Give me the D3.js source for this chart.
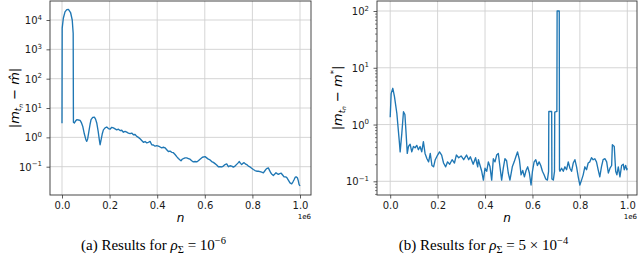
<!DOCTYPE html>
<html>
<head>
<meta charset="utf-8">
<script src="https://cdn.jsdelivr.net/npm/d3@7"></script>
<style>
  body { margin: 0; background: #fff; }
  svg { display: block; }
  .tick text { font-family: "DejaVu Sans", sans-serif; font-size: 10px; fill: #1a1a1a; }
  .tick line { stroke: #333; stroke-width: 0.8; }
  .grid line { stroke: #d0d0d0; stroke-width: 0.9; }
  .frame { fill: none; stroke: #333; stroke-width: 0.9; }
  .series { fill: none; stroke: #1f77b4; stroke-width: 1.35; stroke-linejoin: round; }
  .lab { font-family: "DejaVu Sans", sans-serif; fill: #000; }
  .caption { font-family: "Liberation Serif", serif; font-size: 15px; fill: #000; }
</style>
</head>
<body>
<script>
// n in units of 1e6, error values
var nA = [0, 0.0008, 0.0056, 0.0126, 0.020, 0.027, 0.036, 0.043, 0.047, 0.048,
  0.052, 0.057, 0.062, 0.069, 0.076, 0.082, 0.087, 0.094, 0.100, 0.104,
  0.108, 0.113, 0.118, 0.122, 0.129, 0.136, 0.141, 0.146, 0.152, 0.157,
  0.160, 0.164, 0.169, 0.174, 0.181, 0.188, 0.195, 0.202, 0.209, 0.216,
  0.223, 0.230, 0.237, 0.244, 0.251, 0.258, 0.265, 0.272, 0.279, 0.286,
  0.293, 0.300, 0.307, 0.314, 0.321, 0.328, 0.335, 0.342, 0.349, 0.356,
  0.363, 0.370, 0.377, 0.384, 0.391, 0.398, 0.405, 0.412, 0.419, 0.426,
  0.433, 0.440, 0.447, 0.454, 0.461, 0.468, 0.475, 0.482, 0.489, 0.496,
  0.500, 0.505, 0.510, 0.517, 0.524, 0.531, 0.538, 0.545, 0.552, 0.559,
  0.566, 0.573, 0.580, 0.590, 0.601, 0.608, 0.615, 0.622, 0.629, 0.636,
  0.643, 0.650, 0.657, 0.664, 0.671, 0.678, 0.685, 0.692, 0.699, 0.706,
  0.713, 0.720, 0.727, 0.734, 0.740, 0.745, 0.750, 0.755, 0.760, 0.765,
  0.770, 0.776, 0.783, 0.790, 0.797, 0.804, 0.811, 0.818, 0.825, 0.832,
  0.839, 0.846, 0.851, 0.856, 0.862, 0.867, 0.872, 0.877, 0.883, 0.888,
  0.894, 0.899, 0.904, 0.909, 0.915, 0.921, 0.927, 0.933, 0.939, 0.944,
  0.951, 0.958, 0.965, 0.970, 0.975, 0.980, 0.984, 0.989, 0.993, 0.996, 1.0];
var errA = [3.0, 5300, 11500, 19000, 22500, 23000, 18000, 10000, 3500, 3.3,
  3.1, 3.6, 4.0, 3.9, 3.8, 3.1, 2.4, 1.3, 0.85, 0.73,
  0.9, 1.6, 2.8, 4.0, 4.8, 4.9, 4.2, 3.1, 1.6, 0.8,
  0.56, 0.8, 1.3, 1.8, 2.1, 2.25, 2.0, 1.9, 2.2, 2.1,
  1.95, 1.8, 1.9, 1.7, 1.75, 1.5, 1.6, 1.5, 1.4, 1.34,
  1.4, 1.23, 1.25, 1.08, 1.0, 0.9, 0.78, 0.68, 0.72, 0.65,
  0.68, 0.73, 0.56, 0.55, 0.5, 0.52, 0.5, 0.47, 0.44, 0.46,
  0.44, 0.38, 0.33, 0.34, 0.31, 0.30, 0.26, 0.22, 0.19, 0.17,
  0.16, 0.18, 0.19, 0.20, 0.20, 0.19, 0.18, 0.16, 0.146, 0.15,
  0.146, 0.16, 0.18, 0.21, 0.22, 0.2, 0.18, 0.17, 0.15, 0.14,
  0.127, 0.115, 0.10, 0.10, 0.098, 0.105, 0.118, 0.125, 0.10, 0.108,
  0.105, 0.097, 0.105, 0.12, 0.135, 0.15, 0.13, 0.118, 0.13, 0.138,
  0.125, 0.118, 0.105, 0.098, 0.088, 0.08, 0.074, 0.07, 0.07, 0.068,
  0.065, 0.062, 0.07, 0.08, 0.088, 0.091, 0.075, 0.062, 0.054, 0.05,
  0.056, 0.062, 0.058, 0.055, 0.058, 0.06, 0.052, 0.045, 0.045, 0.043,
  0.035, 0.028, 0.026, 0.03, 0.036, 0.044, 0.045, 0.042, 0.033, 0.025, 0.022];

var nB = [0, 0.004, 0.011, 0.018, 0.028, 0.038, 0.042, 0.049, 0.056, 0.062,
  0.067, 0.072, 0.077, 0.084, 0.091, 0.098, 0.105, 0.112, 0.119, 0.126,
  0.133, 0.140, 0.147, 0.155, 0.162, 0.169, 0.176, 0.183, 0.190, 0.200,
  0.208, 0.217, 0.225, 0.234, 0.242, 0.251, 0.261, 0.271, 0.279, 0.289,
  0.299, 0.310, 0.322, 0.331, 0.338, 0.350, 0.360, 0.369, 0.372, 0.379,
  0.386, 0.393, 0.400, 0.407, 0.414, 0.421, 0.428, 0.435, 0.442, 0.449,
  0.456, 0.463, 0.470, 0.477, 0.484, 0.491, 0.498, 0.505, 0.515, 0.523,
  0.530, 0.537, 0.545, 0.552, 0.559, 0.566, 0.573, 0.580, 0.587, 0.594,
  0.600, 0.607, 0.614, 0.621, 0.628, 0.635, 0.642, 0.649, 0.656, 0.663,
  0.668, 0.669, 0.681, 0.682, 0.688, 0.693, 0.694, 0.703, 0.704, 0.713,
  0.714, 0.716, 0.723, 0.730, 0.737, 0.744, 0.751, 0.758, 0.765, 0.772,
  0.779, 0.786, 0.793, 0.800, 0.807, 0.814, 0.821, 0.828, 0.835, 0.842,
  0.849, 0.856, 0.863, 0.870, 0.877, 0.884, 0.891, 0.898, 0.906, 0.913,
  0.920, 0.927, 0.934, 0.937, 0.945, 0.951, 0.956, 0.962, 0.969, 0.976,
  0.983, 0.987, 0.993, 0.998, 1.0];
var errB = [1.34, 3.5, 4.35, 3.1, 1.58, 0.53, 0.33, 0.70, 1.68, 1.5,
  0.70, 0.31, 0.41, 0.45, 0.33, 0.41, 0.39, 0.43, 0.36, 0.41,
  0.33, 0.50, 0.31, 0.25, 0.22, 0.31, 0.19, 0.18, 0.24, 0.29,
  0.33, 0.29, 0.21, 0.18, 0.22, 0.20, 0.24, 0.21, 0.29, 0.26,
  0.28, 0.24, 0.29, 0.24, 0.27, 0.20, 0.26, 0.18, 0.24, 0.19,
  0.15, 0.105, 0.17, 0.15, 0.22, 0.18, 0.105, 0.25, 0.22, 0.29,
  0.31, 0.18, 0.105, 0.17, 0.25, 0.23, 0.14, 0.105, 0.18, 0.22,
  0.27, 0.33, 0.24, 0.13, 0.155, 0.12, 0.155, 0.18, 0.14, 0.086,
  0.15, 0.22, 0.24, 0.19, 0.22, 0.19, 0.15, 0.13, 0.11, 0.105,
  0.15, 1.7, 1.7, 0.11, 0.105, 0.15, 1.65, 1.7, 100, 100,
  0.16, 0.15, 0.17, 0.15, 0.18, 0.16, 0.22, 0.17, 0.15, 0.21,
  0.24, 0.18, 0.12, 0.086, 0.105, 0.13, 0.18, 0.16, 0.21, 0.22,
  0.26, 0.24, 0.25, 0.22, 0.16, 0.12, 0.18, 0.24, 0.25, 0.22,
  0.14, 0.17, 0.19, 0.44, 0.41, 0.15, 0.13, 0.18, 0.12, 0.19,
  0.20, 0.16, 0.19, 0.16, 0.17];

var xTicks = [0, 0.2, 0.4, 0.6, 0.8, 1.0];
var yExpA = [-1, 0, 1, 2, 3, 4];
var yExpB = [-1, 0, 1, 2];

var svg = d3.select("body").append("svg")
  .attr("width", 640).attr("height", 256);

function panel(o) {
  var g = svg.append("g");
  var x = d3.scaleLinear().domain([0, 1]).range([o.x0, o.x1]);
  var y = d3.scaleLog().domain([0.1, Math.pow(10, o.topExp)]).range([o.yLow, o.yHigh]);
  var yVals = o.exps.map(function (e) { return Math.pow(10, e); });

  // grid
  var grid = g.append("g").attr("class", "grid");
  grid.selectAll(".gx").data(xTicks).enter().append("line")
    .attr("x1", function (d) { return x(d); }).attr("x2", function (d) { return x(d); })
    .attr("y1", o.top).attr("y2", o.bottom);
  grid.selectAll(".gy").data(yVals).enter().append("line")
    .attr("x1", o.left).attr("x2", o.right)
    .attr("y1", function (d) { return y(d); }).attr("y2", function (d) { return y(d); });

  // data line
  var clipId = "clip" + o.id;
  svg.append("clipPath").attr("id", clipId).append("rect")
    .attr("x", o.left).attr("y", o.top)
    .attr("width", o.right - o.left).attr("height", o.bottom - o.top);
  var line = d3.line().x(function (d) { return x(d[0]); }).y(function (d) { return y(d[1]); });
  g.append("path").datum(d3.zip(o.n, o.v))
    .attr("class", "series").attr("clip-path", "url(#" + clipId + ")")
    .attr("d", line);

  g.append("rect").attr("class", "frame")
    .attr("x", o.left).attr("y", o.top)
    .attr("width", o.right - o.left).attr("height", o.bottom - o.top);

  // x axis
  var ax = g.append("g").attr("transform", "translate(0," + o.bottom + ")")
    .call(d3.axisBottom(x).tickValues(xTicks).tickFormat(d3.format(".1f"))
      .tickSize(3.5).tickPadding(3));
  ax.select(".domain").remove();

  // y axis (major)
  var ay = g.append("g").attr("transform", "translate(" + o.left + ",0)")
    .call(d3.axisLeft(y).tickValues(yVals).tickFormat("").tickSize(3.5));
  ay.select(".domain").remove();
  ay.selectAll(".tick").each(function (d, i) {
    var t = d3.select(this).select("text")
      .attr("x", -8).attr("dy", null).attr("y", 3.6).attr("text-anchor", "end");
    t.append("tspan").text("10");
    var e = o.exps[i];
    t.append("tspan").attr("dy", -4.5).style("font-size", "7px")
      .text(e < 0 ? "\u2212" + (-e) : String(e));
  });

  if (o.minor) {
    var minors = [];
    [-2, -1, 0, 1, 2].forEach(function (k) {
      for (var m = 2; m <= 9; m++) minors.push(m * Math.pow(10, k));
    });
    var lo = y.invert(o.bottom), hi = y.invert(o.top);
    minors = minors.filter(function (v) { return v > lo && v < hi; });
    var am = g.append("g").attr("transform", "translate(" + o.left + ",0)")
      .call(d3.axisLeft(y).tickValues(minors).tickFormat("").tickSize(2));
    am.select(".domain").remove();
    am.selectAll(".tick line").style("stroke-width", 0.6);
  }

  // x label and offset text
  g.append("text").attr("class", "lab")
    .attr("x", (o.left + o.right) / 2).attr("y", 222)
    .attr("text-anchor", "middle").style("font-size", "12px").style("font-style", "italic")
    .text("n");
  g.append("text").attr("class", "lab")
    .attr("x", o.right).attr("y", 219).attr("text-anchor", "end")
    .style("font-size", "7px").text("1e6");

  // y label
  var yl = g.append("text").attr("class", "lab")
    .attr("transform", "translate(" + o.ylx + ",98) rotate(-90)")
    .attr("text-anchor", "middle").style("font-size", "13px");
  yl.append("tspan").text("|");
  yl.append("tspan").style("font-style", "italic").text("m");
  yl.append("tspan").attr("dy", 2.5).style("font-size", "8.5px").style("font-style", "italic").text("t");
  yl.append("tspan").attr("dy", 1.5).style("font-size", "6px").style("font-style", "italic").text("n");
  yl.append("tspan").attr("dy", -4).text(" \u2212 ");
  if (o.star) {
    yl.append("tspan").style("font-style", "italic").text("m");
    yl.append("tspan").attr("dy", -5).style("font-size", "8.5px").text("*");
    yl.append("tspan").attr("dy", 5).text("|");
  } else {
    yl.append("tspan").style("font-style", "italic").text("m\u0302");
    yl.append("tspan").text("|");
  }

  // caption
  var c = g.append("text").attr("class", "caption")
    .attr("x", o.capX).attr("y", 249.5).attr("text-anchor", "middle");
  c.append("tspan").text(o.capLetter + " Results for ");
  c.append("tspan").style("font-style", "italic").text("\u03c1");
  c.append("tspan").attr("dy", 3).style("font-size", "10.5px").text("\u03a3");
  c.append("tspan").attr("dy", -3).text(" = " + o.capPre + "10");
  c.append("tspan").attr("dy", -5.5).style("font-size", "10.5px").text(o.capExp);
}

panel({
  id: "a", n: nA, v: errA, exps: yExpA, topExp: 4,
  x0: 62, x1: 300, yLow: 166.7, yHigh: 20,
  left: 50, right: 311, top: 1, bottom: 195,
  ylx: 18.5, star: false, minor: false,
  capX: 153.5, capLetter: "(a)", capPre: "", capExp: "\u22126"
});

panel({
  id: "b", n: nB, v: errB, exps: yExpB, topExp: 2,
  x0: 390.2, x1: 627.3, yLow: 181.3, yHigh: 11,
  left: 377, right: 637, top: 1, bottom: 195,
  ylx: 342, star: true, minor: true,
  capX: 483.5, capLetter: "(b)", capPre: "5 \u00d7 ", capExp: "\u22124"
});
</script>
</body>
</html>
